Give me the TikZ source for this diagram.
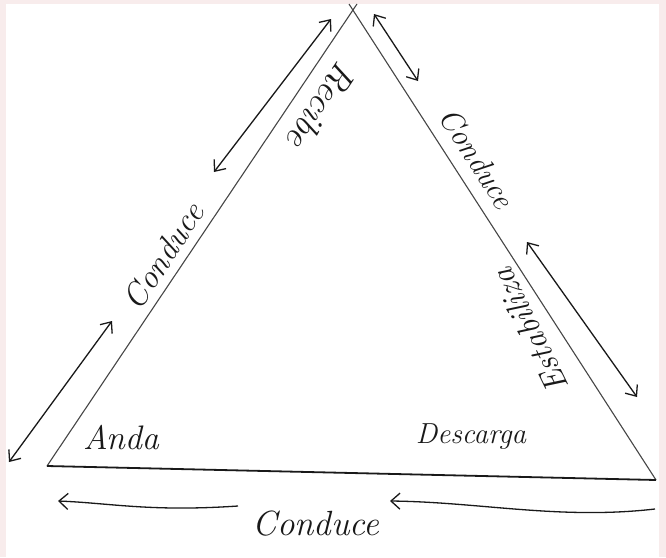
\documentclass[tikz,border=0pt]{standalone}
\usetikzlibrary{arrows.meta}
\definecolor{bgpink}{RGB}{248,236,236}
\definecolor{ink}{RGB}{25,25,25}
\definecolor{edgegray}{RGB}{70,70,70}
\begin{document}
\begin{tikzpicture}[x=1pt,y=-1pt,
  side/.style={draw=edgegray,line width=1.1pt},
  base/.style={draw=ink,line width=1.8pt},
  dbl/.style={draw=ink,line width=1.3pt,{Straight Barb[length=9pt,width=15pt]}-{Straight Barb[length=9pt,width=15pt]}},
  single/.style={draw=ink,line width=1.3pt,-{Straight Barb[length=9pt,width=16pt]}},
  hand/.style={text=ink,inner sep=0pt,font=\itshape}]
% background
\fill[bgpink] (0,0) rectangle (666,557);
\fill[white] (6,4) rectangle (659,557);
\useasboundingbox (0,0) rectangle (666,557);
% triangle corners
\coordinate (BL) at (47,466);
\coordinate (BR) at (656,480);
\coordinate (TL) at (357,4);
\coordinate (TR) at (349,4);
\path[side] (BL) -- (TL);
\path[side] (TR) -- (BR);
\path[base] (BL) -- (BR);
% arrow end points
\coordinate (a1s) at (9,462);   \coordinate (a1e) at (112,321);
\coordinate (a2s) at (214,172); \coordinate (a2e) at (331,19);
\coordinate (a3s) at (374,14);  \coordinate (a3e) at (418,81);
\coordinate (a4s) at (527,242); \coordinate (a4e) at (637,397);
\coordinate (a5s) at (238,506); \coordinate (a5e) at (58,501);
\coordinate (a6s) at (655,509); \coordinate (a6e) at (390,501);
\path[dbl] (a1s) -- (a1e);
\path[dbl] (a2s) -- (a2e);
\path[dbl] (a3s) -- (a3e);
\path[dbl] (a4s) -- (a4e);
\path[single] (a5s) .. controls (150,512) and (110,503) .. (a5e);
\path[single] (a6s) .. controls (560,520) and (480,502) .. (a6e);
% labels
\node[hand,font=\fontsize{33}{37}\selectfont\itshape,rotate=56.5] (condL) at (163,256) {Conduce};
\node[hand,font=\fontsize{36}{40}\selectfont\itshape,rotate=-123.5] (recibe) at (322,106) {Recibe};
\node[hand,font=\fontsize{31}{35}\selectfont\itshape,rotate=-57.4] (condR) at (477,158) {Conduce};
\node[hand,font=\fontsize{33}{37}\selectfont\itshape,rotate=116] (estab) at (530,331) {Estabiliza};
\node[hand,font=\fontsize{34}{38}\selectfont\itshape] (anda) at (121,438) {Anda};
\node[hand,font=\fontsize{29}{33}\selectfont\itshape] (desc) at (471,437) {Descarga};
\node[hand,font=\fontsize{35}{39}\selectfont\itshape] (condB) at (316,524) {Conduce};
\end{tikzpicture}
\end{document}
